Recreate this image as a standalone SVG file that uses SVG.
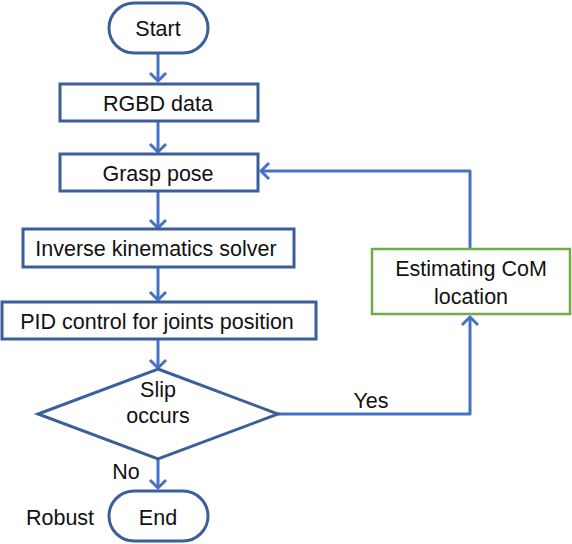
<svg xmlns="http://www.w3.org/2000/svg" width="572" height="544" viewBox="0 0 572 544">
<style>
.box{fill:#fff;stroke:#3D5F99;stroke-width:3}
.gbox{fill:#fff;stroke:#70AD47;stroke-width:2.5}
.t{font-family:"Liberation Sans",Arial,sans-serif;font-size:21.5px;fill:#111;text-anchor:middle}
.c{fill:none;stroke:#4472C4;stroke-width:3;stroke-linejoin:round}
</style>
<defs>
<marker id="ah" markerUnits="userSpaceOnUse" markerWidth="20" markerHeight="20" refX="10" refY="10" orient="auto" viewBox="0 0 20 20">
<path d="M2,2 L10,10 L2,18" fill="none" stroke="#4472C4" stroke-width="3" stroke-linejoin="miter"/>
</marker>
</defs>
<rect width="572" height="544" fill="#fff"/>
<g id="connectors">
<line class="c" x1="158" y1="54" x2="158" y2="81" marker-end="url(#ah)"/>
<line class="c" x1="158" y1="122" x2="158" y2="152" marker-end="url(#ah)"/>
<line class="c" x1="158" y1="192" x2="158" y2="228" marker-end="url(#ah)"/>
<line class="c" x1="158" y1="268" x2="158" y2="300" marker-end="url(#ah)"/>
<line class="c" x1="158" y1="339" x2="158" y2="368" marker-end="url(#ah)"/>
<line class="c" x1="158" y1="459" x2="158" y2="488" marker-end="url(#ah)"/>
<polyline class="c" points="278,414 470,414 470,317" marker-end="url(#ah)"/>
<polyline class="c" points="470,248 470,171 261,171" marker-end="url(#ah)"/>
<text class="t" x="371" y="408">Yes</text>
<text class="t" x="126" y="479">No</text>
</g>
<g id="start">
<rect class="box" x="109" y="3" width="99" height="50" rx="25"/>
<text class="t" x="158" y="36">Start</text>
</g>
<g id="rgbd">
<rect class="box" x="60" y="84" width="198" height="37"/>
<text class="t" x="158" y="111">RGBD data</text>
</g>
<g id="grasp">
<rect class="box" x="60" y="154" width="198" height="37"/>
<text class="t" x="158" y="181">Grasp pose</text>
</g>
<g id="ik">
<rect class="box" x="23" y="229" width="271" height="38"/>
<text class="t" x="156" y="256">Inverse kinematics solver</text>
</g>
<g id="pid">
<rect class="box" x="2" y="302" width="314" height="37"/>
<text class="t" x="157" y="329">PID control for joints position</text>
</g>
<g id="slip">
<polygon class="box" points="158,369 278,414 158,459 38,414"/>
<text class="t" x="158" y="397">Slip</text>
<text class="t" x="158" y="423">occurs</text>
</g>
<g id="end">
<rect class="box" x="109" y="491" width="99" height="50" rx="25"/>
<text class="t" x="158" y="525">End</text>
<text class="t" x="60" y="525">Robust</text>
</g>
<g id="com">
<rect class="gbox" x="372" y="249" width="198" height="65"/>
<text class="t" x="471" y="276">Estimating CoM</text>
<text class="t" x="471" y="304">location</text>
</g>
</svg>
